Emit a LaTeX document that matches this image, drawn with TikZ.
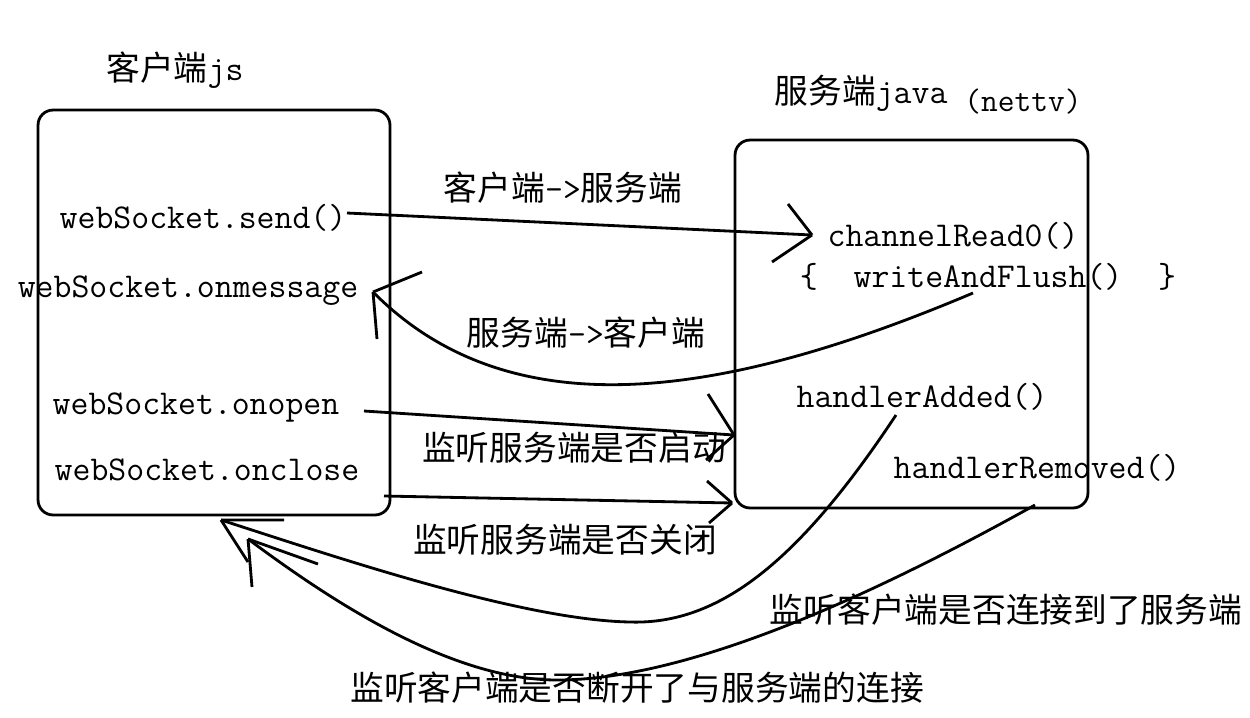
\documentclass[tikz,border=0pt]{standalone}
\usepackage{fontspec}
\newfontfamily\cjk{Noto Sans CJK SC}
\newcommand\zhtext[1]{{\cjk\fontsize{19.2}{22}\selectfont #1}}

\begin{document}
\begin{tikzpicture}[x=0.02cm,y=-0.02cm,line width=1.6pt]

% ---------- Styles ----------
\tikzset{
  code/.style={inner sep=0pt, font=\fontsize{19.8}{22}\selectfont\ttfamily},
  zh/.style={inner sep=0pt, font=\fontsize{19.2}{22}\selectfont\cjk},
  box/.style={draw, rounded corners=0.3cm, minimum width=#1},
}

% Bildgroesse fest
\useasboundingbox (0,0) rectangle (1250,717);

% ===================
% Kaesten
% ===================
\node[box=7.04cm, minimum height=8.1cm] (client) at (214,312.5) {};
\node[box=7.06cm, minimum height=7.36cm] (server) at (911.5,324) {};

\node[code] (clienttitle) at (175,70) {\zhtext{客户端}js};
\node[code] (servertitle) at (861,93) {\zhtext{服务端}java};
\node[code, font=\fontsize{18.5}{20}\selectfont\ttfamily] (nettv) at (1023,102) {(nettv)};

% links: Client-Methoden
\node[code] (send) at (203,218) {webSocket.send()};
\node[code] (onmessage) at (188,291) {webSocket.onmessage};
\node[code] (onopen) at (196,408) {webSocket.onopen};
\node[code] (onclose) at (207,470) {webSocket.onclose};

% rechts: Handler
\node[code] (read) at (953,236) {channelRead0()};
\node[code] (flush) at (988,277) {\{\ \ writeAndFlush()\ \ \}};
\node[code] (added) at (922,397) {handlerAdded()};
\node[code] (removed) at (1037,468) {handlerRemoved()};

% Beschriftungen
\node[code] (c2s) at (563,188) {\zhtext{客户端}->\zhtext{服务端}};
\node[code] (s2c) at (586,333) {\zhtext{服务端}->\zhtext{客户端}};
\node[zh] (openlbl) at (574,448) {监听服务端是否启动};
\node[zh] (closelbl) at (565,540) {监听服务端是否关闭};
\node[zh] (addlbl) at (1006,610) {监听客户端是否连接到了服务端};
\node[zh] (remlbl) at (637,688) {监听客户端是否断开了与服务端的连接};

% ===================
% Verbindungen
% ===================
\coordinate (sendStart) at (347,213);
\coordinate (sendTip) at (812,235);
\coordinate (flushStart) at (973,293);
\coordinate (msgTip) at (373,292);
\coordinate (openStart) at (364,411);
\coordinate (openTip) at (734,435);
\coordinate (closeStart) at (384,496);
\coordinate (closeTip) at (732,503);
\coordinate (addStart) at (896,415);
\coordinate (addLow) at (630,622);
\coordinate (addTip) at (221,520);
\coordinate (remStart) at (1035,505);
\coordinate (remLow) at (557,680);
\coordinate (remTip) at (248,539);

\draw (sendStart) -- (sendTip);
\draw (flushStart) .. controls (720,400) and (510,430) .. (msgTip);
\draw (openStart) -- (openTip);
\draw (closeStart) -- (closeTip);
\draw (addStart) .. controls (800,560) and (720,625) .. (addLow)
  .. controls (520,620) and (330,555) .. (addTip);
\draw (remStart) .. controls (900,580) and (700,680) .. (remLow)
  .. controls (450,680) and (330,600) .. (remTip);

% Pfeilspitzen (von Hand)
\foreach \tip/\ax/\ay/\bx/\by in {sendTip/-24/-31/-40/27, msgTip/49/-20/4/47,
    openTip/-26/-41/-28/25, closeTip/-25/-22/-23/20,
    addTip/63/0/27/42, remTip/70/25/4/48}
  \draw (\tip) -- ++(\ax,\ay) (\tip) -- ++(\bx,\by);

\end{tikzpicture}
\end{document}
